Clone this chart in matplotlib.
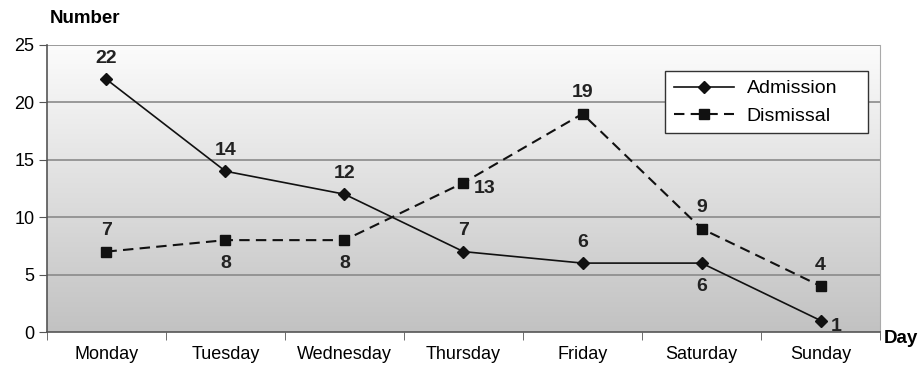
import numpy as np
import matplotlib.pyplot as plt
from matplotlib.colors import LinearSegmentedColormap

plt.rcParams['font.family'] = ['Liberation Sans', 'DejaVu Sans']

days = ['Monday', 'Tuesday', 'Wednesday', 'Thursday', 'Friday', 'Saturday', 'Sunday']
admission = [22, 14, 12, 7, 6, 6, 1]
dismissal = [7, 8, 8, 13, 19, 9, 4]

# where each value label goes relative to its point
adm_pos = ['above', 'above', 'above', 'above', 'above', 'below', 'right']
dis_pos = ['above', 'below', 'below', 'right', 'above', 'above', 'above']

fig = plt.figure(figsize=(9.2, 3.65), dpi=100)
ax = fig.add_axes([0.051, 0.0904, 0.9056, 0.7866])

x = np.arange(len(days))

# grey gradient behind the plot
cmap = LinearSegmentedColormap.from_list('bg', ['#fcfcfc', '#c2c2c2'])
grad = np.linspace(0, 1, 256).reshape(-1, 1)
ax.imshow(grad, cmap=cmap, aspect='auto', extent=[0, 1, 0, 1],
          transform=ax.transAxes, zorder=0)

ax.plot(x, admission, '-', color='#111111', lw=1.2, marker='D', ms=6.5,
        label='Admission', zorder=3)
ax.plot(x, dismissal, color='#111111', lw=1.5, ls=(0, (5, 3)), marker='s',
        ms=7, label='Dismissal', zorder=3)

offsets = {'above': (0, 21, 'center', 'center'),
           'below': (0, -23, 'center', 'center'),
           'right': (10, -6, 'left', 'center')}


def label_points(values, positions):
    for xi, v, p in zip(x, values, positions):
        dx, dy, ha, va = offsets[p]
        ax.annotate(str(v), (xi, v), xytext=(dx, dy), textcoords='offset pixels',
                    ha=ha, va=va, fontsize=14, fontweight='bold', color='#222222',
                    zorder=4)


label_points(admission, adm_pos)
label_points(dismissal, dis_pos)

ax.set_xlim(-0.5, len(days) - 0.5)
ax.set_ylim(0, 25)
ax.set_yticks([0, 5, 10, 15, 20, 25])
ax.set_xticks(x)
ax.set_xticklabels(days)
ax.set_xticks(np.arange(-0.5, len(days)), minor=True)
ax.tick_params(axis='x', which='major', length=0, pad=10, labelsize=13)
ax.tick_params(axis='x', which='minor', length=6, color='#555555')
ax.tick_params(axis='y', length=6, color='#555555', labelsize=13, pad=3)

for yv in [5, 10, 15, 20, 25]:
    ax.axhline(yv, color='#8a8a8a', lw=1.2, zorder=1)

ax.spines['left'].set_color('#555555')
ax.spines['bottom'].set_color('#555555')
ax.spines['left'].set_linewidth(1.2)
ax.spines['bottom'].set_linewidth(1.2)
ax.spines['top'].set_visible(False)
ax.spines['right'].set_color('#aaaaaa')

fig.text(0.054, 0.95, 'Number', fontsize=13.5, fontweight='bold', va='center')
fig.text(0.961, 0.073, 'Day', fontsize=13.5, fontweight='bold', va='center')

leg = ax.legend(loc='upper left', bbox_to_anchor=(0.742, 0.686, 0.244, 0.223),
                mode='expand', fontsize=14, frameon=True, fancybox=False,
                handlelength=3.1, borderpad=0.45, labelspacing=0.5,
                handletextpad=0.65, borderaxespad=0)
leg.get_frame().set_edgecolor('#333333')
leg.get_frame().set_facecolor('white')
leg.get_frame().set_alpha(1)

plt.savefig('out.png', dpi=100)
